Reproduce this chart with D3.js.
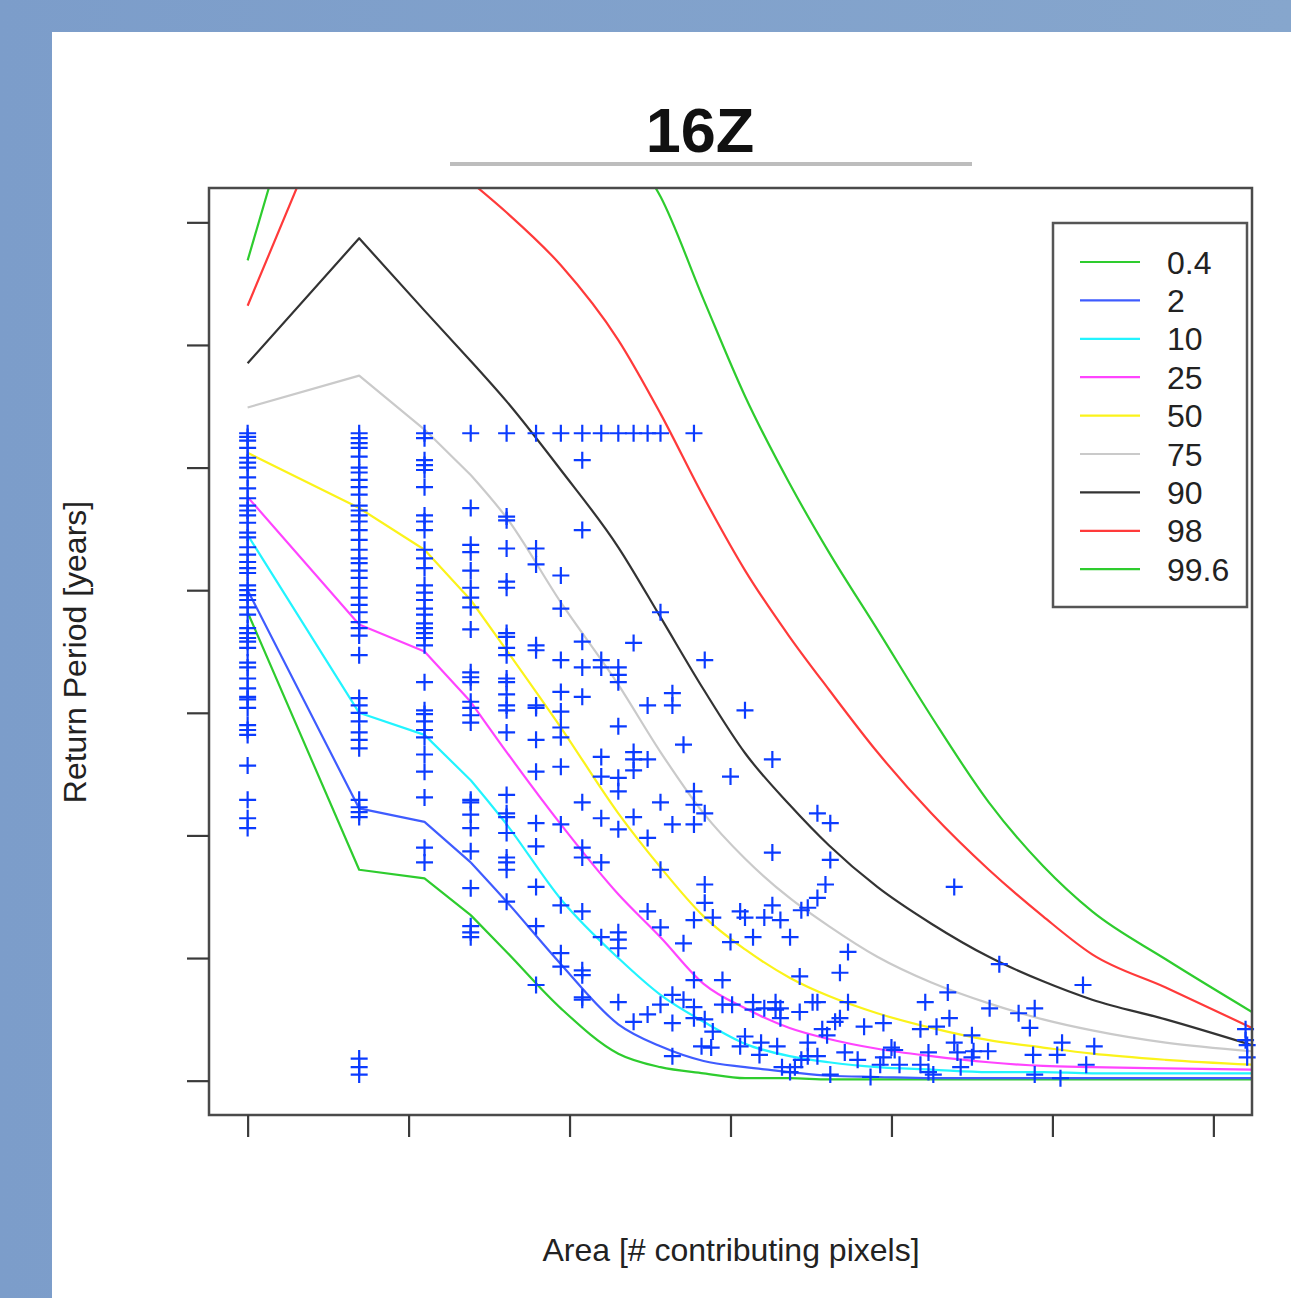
<!DOCTYPE html>
<html>
<head>
<meta charset="utf-8">
<script src="https://cdn.jsdelivr.net/npm/d3@7"></script>
<style>
  html, body { margin: 0; padding: 0; background: #7f9fcb; }
  text { font-family: "Liberation Sans", Arial, sans-serif; }
</style>
</head>
<body>
<script>
/* global d3 */
(function() {
  'use strict';

  // axes are natural logs: x = ln(area), y = ln(return period)
  const xTicks = [0, 1, 2, 3, 4, 5, 6];
  const yTicks = [0, 1, 2, 3, 4, 5, 6, 7];

  const legendLabels = ['0.4', '2', '10', '25', '50', '75', '90', '98', '99.6'];

  // nodes of the quantile curves (ln area)
  const curveX = [0, 0.693, 1.099, 1.386, 1.609, 1.946, 2.303, 2.565, 2.833, 3.091,
    3.367, 3.611, 3.912, 4.248, 4.605, 4.942, 5.247, 5.704, 6.24];
  const q0_4 = [3.82, 1.72, 1.65, 1.35, 1.05, 0.59, 0.22, 0.11, 0.06, 0.02,
    0.02, 0.01, 0.01, 0.01, 0.01, 0.01, 0.01, 0.01, 0.01];
  const q2 = [4.00, 2.22, 2.11, 1.78, 1.46, 0.95, 0.46, 0.28, 0.16, 0.11,
    0.07, 0.04, 0.03, 0.02, 0.02, 0.02, 0.02, 0.02, 0.02];
  const q10 = [4.45, 3.00, 2.82, 2.45, 2.09, 1.48, 1.00, 0.70, 0.48, 0.30,
    0.20, 0.15, 0.11, 0.09, 0.07, 0.07, 0.06, 0.06, 0.06];
  const q25 = [4.76, 3.72, 3.50, 3.09, 2.68, 2.09, 1.52, 1.17, 0.79, 0.59,
    0.43, 0.34, 0.26, 0.20, 0.15, 0.12, 0.11, 0.10, 0.09];
  const q50 = [5.12, 4.67, 4.33, 3.92, 3.51, 2.88, 2.18, 1.74, 1.34, 1.07,
    0.84, 0.69, 0.55, 0.43, 0.33, 0.27, 0.22, 0.17, 0.13];
  const q75 = [5.49, 5.75, 5.31, 4.94, 4.59, 3.90, 3.23, 2.68, 2.18, 1.81,
    1.49, 1.26, 1.01, 0.80, 0.63, 0.50, 0.41, 0.31, 0.24];
  const q90 = [5.85, 6.87, 6.28, 5.87, 5.54, 4.98, 4.35, 3.78, 3.19, 2.67,
    2.25, 1.92, 1.58, 1.28, 1.01, 0.81, 0.66, 0.50, 0.29];
  const q98 = [6.32, 8.50, 7.67, 7.33, 7.08, 6.65, 6.04, 5.44, 4.76, 4.16,
    3.62, 3.19, 2.68, 2.18, 1.72, 1.34, 1.03, 0.76, 0.43];
  const q99_6 = [6.69, 9.80, 9.50, 9.10, 8.80, 8.30, 7.70, 7.21, 6.37, 5.58,
    4.87, 4.31, 3.68, 2.97, 2.27, 1.75, 1.38, 0.99, 0.56];

  // observations stacked in columns of equal area (ln area -> ln return periods)
  const columnArea = [0, 0.693, 1.099, 1.386, 1.609, 1.792, 1.946, 2.079,
    2.197, 2.303, 2.398, 2.485, 2.565, 2.639, 2.708, 2.773];
  const columnRP = [
    [5.28, 5.25, 5.22, 5.16, 5.08, 5.04, 5.00, 4.92, 4.83, 4.75, 4.69, 4.65, 4.61, 4.55,
      4.47, 4.43, 4.35, 4.29, 4.23, 4.18, 4.14, 4.04, 4.00, 3.96, 3.92, 3.86, 3.80, 3.69,
      3.65, 3.61, 3.58, 3.53, 3.41, 3.37, 3.28, 3.20, 3.13, 3.11, 3.04, 2.90, 2.86, 2.82,
      2.57, 2.29, 2.14, 2.06],
    [5.28, 5.24, 5.20, 5.16, 5.09, 5.00, 4.96, 4.90, 4.84, 4.78, 4.69, 4.65, 4.61, 4.56,
      4.49, 4.41, 4.33, 4.26, 4.22, 4.16, 4.10, 4.02, 3.94, 3.88, 3.82, 3.74, 3.69, 3.63,
      3.47, 3.12, 3.06, 3.00, 2.93, 2.84, 2.78, 2.71, 2.29, 2.23, 2.19, 2.15, 0.18, 0.11, 0.05],
    [5.28, 5.24, 5.06, 5.02, 4.98, 4.84, 4.61, 4.56, 4.49, 4.33, 4.26, 4.18, 4.04, 3.98,
      3.92, 3.85, 3.80, 3.73, 3.69, 3.65, 3.61, 3.55, 3.25, 3.02, 2.99, 2.93, 2.86, 2.80,
      2.66, 2.52, 2.31, 1.90, 1.78],
    [5.28, 4.67, 4.37, 4.31, 4.16, 4.02, 3.94, 3.86, 3.68, 3.33, 3.29, 3.25, 3.09, 3.04,
      2.98, 2.92, 2.29, 2.27, 2.17, 2.06, 1.87, 1.57, 1.26, 1.21, 1.17],
    [5.28, 4.60, 4.57, 4.34, 4.07, 4.02, 3.65, 3.62, 3.53, 3.47, 3.28, 3.25, 3.15, 3.06,
      3.02, 2.84, 2.33, 2.18, 2.15, 2.02, 1.82, 1.78, 1.72, 1.46],
    [5.28, 4.34, 4.21, 3.55, 3.51, 3.06, 3.04, 2.78, 2.52, 2.10, 1.91, 1.58, 1.26, 0.78],
    [5.28, 4.12, 3.85, 3.43, 3.17, 3.01, 2.88, 2.80, 2.56, 2.09, 1.43, 1.04, 0.93],
    [5.28, 5.06, 4.49, 3.58, 3.37, 3.13, 2.27, 1.90, 1.82, 1.38, 0.90, 0.86, 0.68, 0.66],
    [5.28, 3.43, 3.37, 2.64, 2.48, 2.14, 1.78, 1.17],
    [5.28, 3.37, 3.31, 3.25, 2.89, 2.47, 2.36, 2.05, 1.21, 1.15, 1.08, 0.64],
    [5.28, 3.57, 2.68, 2.62, 2.53, 2.15, 0.48],
    [5.28, 3.06, 2.62, 1.98, 1.38, 0.54],
    [5.28, 3.82, 2.27, 1.72, 1.25, 0.62],
    [3.16, 3.06, 2.09, 0.70, 0.47, 0.20],
    [2.74, 1.12, 0.66],
    [5.28, 2.36, 2.25, 2.09, 1.31, 0.82, 0.60, 0.51]
  ];

  // remaining observations at larger areas: [ln area, ln return period]
  const scatterPts = [
    [2.84, 3.43], [2.84, 2.18], [2.84, 1.60], [2.84, 1.45], [2.84, 0.50], [2.82, 0.28],
    [2.88, 0.27], [2.89, 1.33], [2.89, 0.40], [2.95, 0.62], [2.95, 0.82], [3.00, 2.48],
    [3.00, 1.13], [3.01, 0.62], [3.06, 1.38], [3.09, 1.33], [3.09, 3.02], [3.09, 0.36],
    [3.06, 0.28], [3.14, 1.17], [3.14, 0.64], [3.14, 0.58], [3.18, 0.21], [3.19, 0.31],
    [3.21, 1.33], [3.21, 0.59], [3.26, 2.62], [3.26, 1.86], [3.26, 1.43], [3.28, 0.64],
    [3.28, 0.58], [3.29, 0.28], [3.31, 1.31], [3.31, 0.59], [3.31, 0.51], [3.32, 0.11],
    [3.37, 1.17], [3.37, 0.07], [3.40, 0.11], [3.43, 0.85], [3.43, 0.56], [3.44, 1.39],
    [3.44, 0.17], [3.48, 1.41], [3.48, 0.31], [3.48, 0.20], [3.51, 0.64], [3.54, 2.18],
    [3.54, 1.49], [3.54, 0.64], [3.54, 0.20], [3.57, 0.42], [3.59, 1.60], [3.60, 0.37],
    [3.62, 2.10], [3.62, 1.80], [3.62, 0.05], [3.65, 0.48], [3.68, 0.88], [3.68, 0.51],
    [3.71, 0.23], [3.73, 1.05], [3.73, 0.64], [3.79, 0.17], [3.83, 0.44], [3.87, 0.03],
    [3.93, 0.13], [3.95, 0.47], [3.95, 0.19], [4.00, 0.27],
    [4.39, 1.58], [4.67, 0.95], [5.19, 0.78], [4.35, 0.72], [4.21, 0.64], [4.61, 0.59],
    [4.79, 0.55], [4.89, 0.59], [4.36, 0.51], [4.86, 0.43], [4.18, 0.42], [4.28, 0.44],
    [4.50, 0.37], [4.39, 0.31], [5.06, 0.31], [5.26, 0.28], [4.02, 0.25], [4.23, 0.23],
    [4.41, 0.23], [4.51, 0.24], [4.60, 0.24], [4.50, 0.19], [4.88, 0.21], [5.03, 0.21],
    [4.05, 0.13], [4.18, 0.13], [4.43, 0.11], [5.21, 0.13], [4.23, 0.07], [4.26, 0.05],
    [4.89, 0.05], [5.05, 0.02], [6.20, 0.42], [6.20, 0.33], [6.21, 0.29], [6.21, 0.19]
  ];

  const w = 1291;
  const h = 1298;
  const plot = { left: 209, right: 1252, top: 188, bottom: 1115 };

  const lineColors = ['#2ecc2e', '#3f5cff', '#22f4ff', '#ff44ff', '#fbf31a',
    '#cacaca', '#333333', '#ff3a3a', '#2ecc2e'];
  const series = [q0_4, q2, q10, q25, q50, q75, q90, q98, q99_6];

  const xScale = d3.scaleLinear().domain([-0.24, 6.24]).range([plot.left, plot.right]);
  const yScale = d3.scaleLinear().domain([-0.28, 7.28]).range([plot.bottom, plot.top]);

  const svg = d3.select('body')
    .append('svg')
    .attr('width', w)
    .attr('height', h)
    .style('display', 'block');

  // blue frame and white panel
  const defs = svg.append('defs');
  const grad = defs.append('linearGradient')
    .attr('id', 'bg').attr('x1', '0').attr('x2', '1').attr('y1', '0').attr('y2', '0');
  grad.append('stop').attr('offset', '0').attr('stop-color', '#7c9dca');
  grad.append('stop').attr('offset', '1').attr('stop-color', '#86a6cd');
  svg.append('rect').attr('width', w).attr('height', h).attr('fill', 'url(#bg)');
  svg.append('rect').attr('x', 52).attr('y', 32)
    .attr('width', w - 52).attr('height', h - 32).attr('fill', '#fff');

  defs.append('clipPath').attr('id', 'clip')
    .append('rect')
    .attr('x', plot.left).attr('y', plot.top)
    .attr('width', plot.right - plot.left).attr('height', plot.bottom - plot.top);

  // title
  svg.append('text')
    .attr('x', 700).attr('y', 152)
    .attr('text-anchor', 'middle')
    .attr('font-size', 63).attr('font-weight', 'bold')
    .attr('fill', '#111')
    .text('16Z');
  svg.append('line')
    .attr('x1', 450).attr('x2', 972).attr('y1', 164).attr('y2', 164)
    .attr('stroke', '#bdbdbd').attr('stroke-width', 4);

  // quantile curves: straight pieces for the first few areas, smooth after that
  const split = 3;
  const straight = d3.line()
    .x(d => xScale(d[0]))
    .y(d => yScale(d[1]));
  const smooth = d3.line()
    .x(d => xScale(d[0]))
    .y(d => yScale(d[1]))
    .curve(d3.curveMonotoneX);
  const curvePath = vals => {
    const pts = vals.map((v, i) => [curveX[i], v]);
    return straight(pts.slice(0, split + 1)) + smooth(pts.slice(split));
  };
  svg.append('g')
    .attr('clip-path', 'url(#clip)')
    .selectAll('path')
    .data(series)
    .enter()
    .append('path')
    .attr('d', d => curvePath(d))
    .attr('fill', 'none')
    .attr('stroke', (d, i) => lineColors[i])
    .attr('stroke-width', 2.2)
    .attr('stroke-linejoin', 'round');

  // observations as plus signs
  const obs = [];
  columnArea.forEach((a, i) => columnRP[i].forEach(r => obs.push([a, r])));
  scatterPts.forEach(p => obs.push(p));

  svg.append('g')
    .selectAll('path')
    .data(obs)
    .enter()
    .append('path')
    .attr('d', 'M-8.5,0H8.5M0,-8.5V8.5')
    .attr('transform', d => 'translate(' + xScale(d[0]) + ',' + yScale(d[1]) + ')')
    .attr('stroke', '#0b3bff')
    .attr('stroke-width', 2.2)
    .attr('fill', 'none');

  // box
  svg.append('rect')
    .attr('x', plot.left).attr('y', plot.top)
    .attr('width', plot.right - plot.left).attr('height', plot.bottom - plot.top)
    .attr('fill', 'none').attr('stroke', '#4a4a4a').attr('stroke-width', 2.5);

  // axes without labels
  const xAxis = d3.axisBottom(xScale).tickValues(xTicks).tickFormat('').tickSize(22);
  const gx = svg.append('g')
    .attr('transform', 'translate(0,' + plot.bottom + ')')
    .call(xAxis);
  const yAxis = d3.axisLeft(yScale).tickValues(yTicks).tickFormat('').tickSize(22);
  const gy = svg.append('g')
    .attr('transform', 'translate(' + plot.left + ',0)')
    .call(yAxis);
  [gx, gy].forEach(g => {
    g.select('.domain').remove();
    g.selectAll('.tick line').attr('stroke', '#3a3a3a').attr('stroke-width', 2.2);
  });

  // axis titles
  svg.append('text')
    .attr('x', 731).attr('y', 1261)
    .attr('text-anchor', 'middle')
    .attr('font-size', 32).attr('fill', '#222')
    .text('Area [# contributing pixels]');
  svg.append('text')
    .attr('transform', 'translate(86,652) rotate(-90)')
    .attr('text-anchor', 'middle')
    .attr('font-size', 32).attr('fill', '#222')
    .text('Return Period [years]');

  // legend
  const legend = svg.append('g');
  legend.append('rect')
    .attr('x', 1053).attr('y', 223).attr('width', 194).attr('height', 384)
    .attr('fill', '#fff').attr('stroke', '#555').attr('stroke-width', 2.5);
  const rows = legend.selectAll('g.row')
    .data(legendLabels)
    .enter()
    .append('g')
    .attr('class', 'row')
    .attr('transform', (d, i) => 'translate(0,' + (262 + i * 38.4) + ')');
  rows.append('line')
    .attr('x1', 1080).attr('x2', 1140)
    .attr('stroke', (d, i) => lineColors[i])
    .attr('stroke-width', 2.2);
  rows.append('text')
    .attr('x', 1167).attr('dy', '0.36em')
    .attr('font-size', 32).attr('fill', '#222')
    .text(d => d);
}());
</script>
</body>
</html>
